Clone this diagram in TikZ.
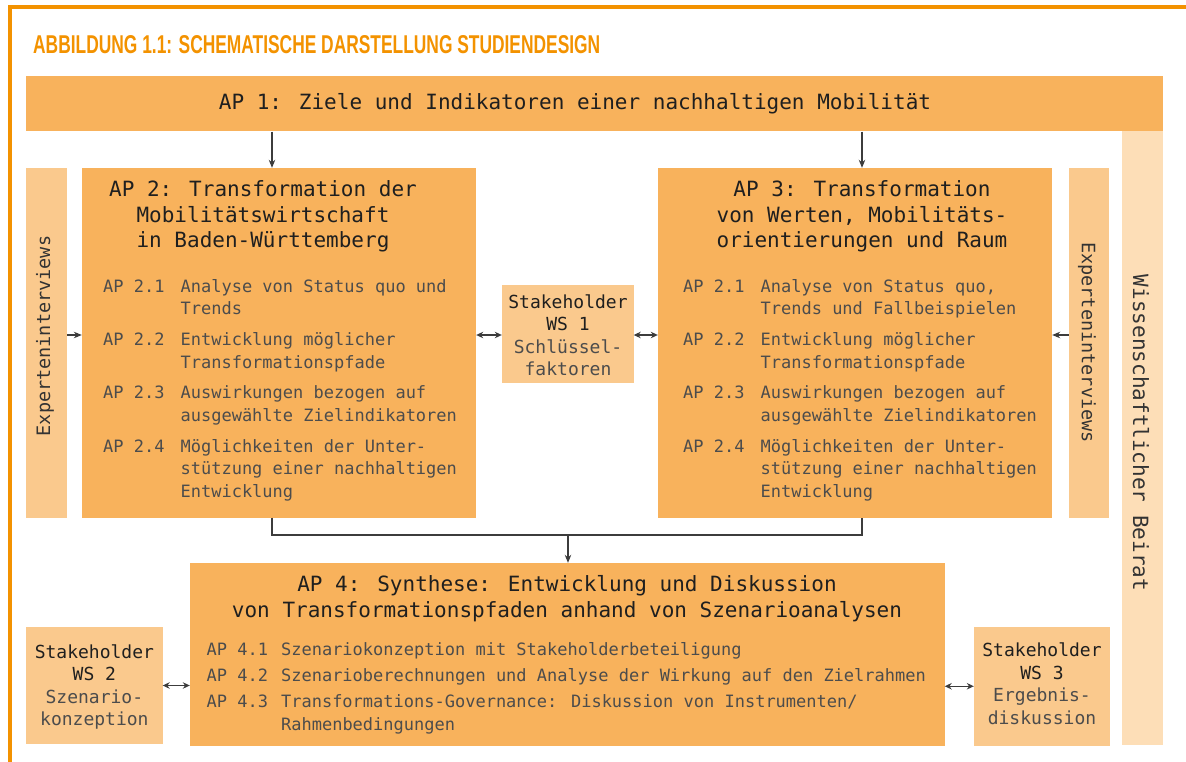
\documentclass[tikz,border=0pt]{standalone}
\usepackage{graphicx}
\usepackage{fontspec}
\setmainfont{DejaVu Sans Mono}
\newfontfamily\headfont{Liberation Sans}
\usetikzlibrary{arrows.meta,positioning}

\definecolor{apfill}{HTML}{F8B25C}
\definecolor{sidefill}{HTML}{FAC98D}
\definecolor{beiratfill}{HTML}{FDDEB7}
\definecolor{frameorange}{HTML}{F39200}
\definecolor{linegray}{HTML}{3C3C3C}

\newcommand{\titlefont}{\fontsize{21}{25.5}\selectfont\color{black!88}}
\newcommand{\itemfont}{\fontsize{17}{22.7}\selectfont\color{black!70}}
\newcommand{\synthfont}{\fontsize{17}{23.5}\selectfont\color{black!70}}
\newcommand{\wsfont}{\fontsize{18}{22.5}\selectfont\color{black!88}}
\newcommand{\sidefont}{\fontsize{18.5}{22}\selectfont\color{black!80}}

\tikzset{
  apbox/.style={fill=apfill, inner sep=0pt},
  sidebox/.style={fill=sidefill, inner sep=0pt},
  beiratbox/.style={fill=beiratfill, inner sep=0pt},
  txt/.style={inner sep=0pt, anchor=base},
  arr/.style={-{Stealth[length=8pt,width=6.5pt]}, draw=linegray, line width=1.1pt},
  dbl/.style={{Stealth[length=7pt,width=6.5pt]}-{Stealth[length=7pt,width=6.5pt]}, draw=linegray, line width=1.1pt},
  link/.style={draw=linegray, line width=1.1pt}
}

\begin{document}
\begin{tikzpicture}[x=1pt, y=-1pt]
  \useasboundingbox (0,0) rectangle (1186,762);

  % frame and heading
  \draw[frameorange, line width=3.5pt] (1186,7) -- (9.8,7) -- (9.8,762);
  \node[inner sep=0pt, anchor=base west, text=frameorange] (heading) at (33,53.3)
    {\resizebox{567pt}{18pt}{\headfont\bfseries ABBILDUNG 1.1: SCHEMATISCHE DARSTELLUNG STUDIENDESIGN}};

  % boxes
  \node[beiratbox, minimum width=41pt, minimum height=613.5pt] (beirat) at (1142.5,438.25) {};
  \node[apbox, minimum width=1137pt, minimum height=55.5pt] (ap1) at (594.5,103.75) {};
  \node[apbox, minimum width=394pt, minimum height=349.5pt] (ap2) at (279,342.75) {};
  \node[apbox, minimum width=394pt, minimum height=349.5pt] (ap3) at (855,342.75) {};
  \node[sidebox, minimum width=41pt, minimum height=349.5pt] (expl) at (46.5,342.75) {};
  \node[sidebox, minimum width=40pt, minimum height=349.5pt] (expr) at (1089,342.75) {};
  \node[sidebox, minimum width=131.5pt, minimum height=97.5pt] (ws1) at (567.75,333.75) {};
  \node[apbox, minimum width=754.5pt, minimum height=183pt] (ap4) at (567.25,654.5) {};
  \node[sidebox, minimum width=136.5pt, minimum height=117pt] (ws2) at (94.25,685.5) {};
  \node[sidebox, minimum width=136pt, minimum height=118.5pt] (ws3) at (1042,686.25) {};

  % texts
  \node[txt, font=\titlefont] (ap1txt) at (575,110)
    {AP 1: Ziele und Indikatoren einer nachhaltigen Mobilität};

  \node[txt, font=\titlefont] (ap2title) at (263,197)
    {\begin{tabular}[t]{@{}c@{}}AP 2: Transformation der\\ Mobilitätswirtschaft\\ in Baden-Württemberg\end{tabular}};
  \node[txt, anchor=base west, font=\itemfont] (ap2items) at (103,292)
    {\begin{tabular}[t]{@{}l@{\hspace{16pt}}l@{}}
      AP 2.1 & Analyse von Status quo und\\ & Trends\\[8pt]
      AP 2.2 & Entwicklung möglicher\\ & Transformationspfade\\[8pt]
      AP 2.3 & Auswirkungen bezogen auf\\ & ausgewählte Zielindikatoren\\[8pt]
      AP 2.4 & Möglichkeiten der Unter-\\ & stützung einer nachhaltigen\\ & Entwicklung
    \end{tabular}};

  \node[txt, font=\titlefont] (ap3title) at (862,197)
    {\begin{tabular}[t]{@{}c@{}}AP 3: Transformation\\ von Werten, Mobilitäts-\\ orientierungen und Raum\end{tabular}};
  \node[txt, anchor=base west, font=\itemfont] (ap3items) at (683,292)
    {\begin{tabular}[t]{@{}l@{\hspace{16pt}}l@{}}
      AP 2.1 & Analyse von Status quo,\\ & Trends und Fallbeispielen\\[8pt]
      AP 2.2 & Entwicklung möglicher\\ & Transformationspfade\\[8pt]
      AP 2.3 & Auswirkungen bezogen auf\\ & ausgewählte Zielindikatoren\\[8pt]
      AP 2.4 & Möglichkeiten der Unter-\\ & stützung einer nachhaltigen\\ & Entwicklung
    \end{tabular}};

  \node[txt, font=\titlefont] (ap4title) at (567,591.7)
    {\begin{tabular}[t]{@{}c@{}}AP 4: Synthese: Entwicklung und Diskussion\\ von Transformationspfaden anhand von Szenarioanalysen\end{tabular}};
  \node[txt, anchor=base west, font=\synthfont] (ap4items) at (206.5,655)
    {\begin{tabular}[t]{@{}l@{\hspace{13pt}}l@{}}
      AP 4.1 & Szenariokonzeption mit Stakeholderbeteiligung\\[2.5pt]
      AP 4.2 & Szenarioberechnungen und Analyse der Wirkung auf den Zielrahmen\\[2.5pt]
      AP 4.3 & Transformations-Governance: Diskussion von Instrumenten/\\ & Rahmenbedingungen
    \end{tabular}};

  \node[txt, font=\wsfont] (ws1txt) at (568,308.3)
    {\begin{tabular}[t]{@{}c@{}}Stakeholder\\ WS 1\\ \color{black!70}Schlüssel-\\ \color{black!70}faktoren\end{tabular}};
  \node[txt, font=\wsfont] (ws2txt) at (94.4,658)
    {\begin{tabular}[t]{@{}c@{}}Stakeholder\\ WS 2\\ \color{black!70}Szenario-\\ \color{black!70}konzeption\end{tabular}};
  \node[txt, font=\wsfont] (ws3txt) at (1042,656.7)
    {\begin{tabular}[t]{@{}c@{}}Stakeholder\\ WS 3\\ \color{black!70}Ergebnis-\\ \color{black!70}diskussion\end{tabular}};

  \node[inner sep=0pt, rotate=90, font=\sidefont] (expltxt) at (45,336) {Experteninterviews};
  \node[inner sep=0pt, rotate=-90, font=\sidefont] (exprtxt) at (1087,342.5) {Experteninterviews};
  \node[inner sep=0pt, rotate=-90, font=\fontsize{21}{25}\selectfont\color{black!80}] (beirattxt) at (1141,433) {Wissenschaftlicher Beirat};

  % connectors
  \coordinate (col2) at (272,0);
  \coordinate (col3) at (862,0);
  \coordinate (row1) at (0,335);
  \coordinate (join) at (568,535);

  \draw[arr] (ap1.south -| col2) -- (ap2.north -| col2);
  \draw[arr] (ap1.south -| col3) -- (ap3.north -| col3);
  \draw[arr] (expl.east |- row1) -- (ap2.west |- row1);
  \draw[arr] (expr.west |- row1) -- (ap3.east |- row1);
  \draw[dbl] (ap2.east |- row1) -- (ws1.west |- row1);
  \draw[dbl] (ws1.east |- row1) -- (ap3.west |- row1);

  \draw[link] (ap2.south -| col2) |- (join) -| (ap3.south -| col3);
  \draw[arr] (join) -- (join |- ap4.north);

  \draw[dbl] (ws2.east) -- (ap4.west |- ws2.east);
  \draw[dbl] (ap4.east |- ws3.west) -- (ws3.west);
\end{tikzpicture}
\end{document}
